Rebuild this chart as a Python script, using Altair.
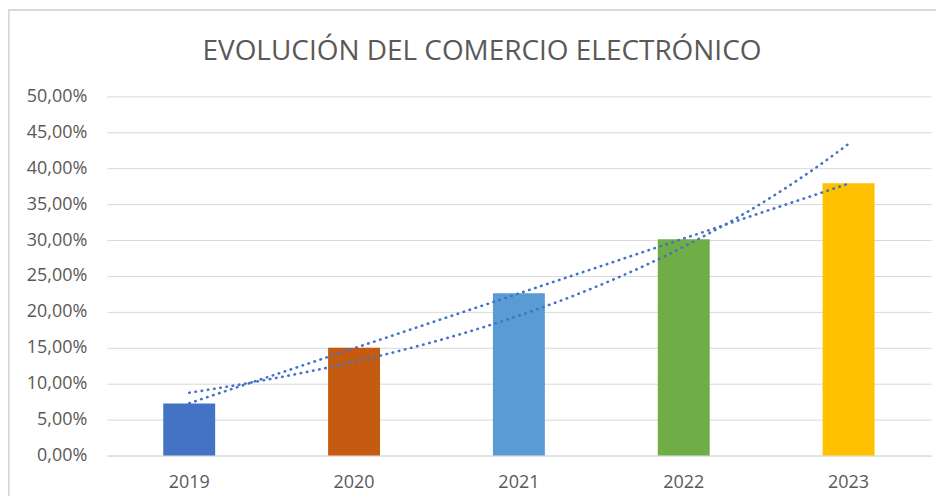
import altair as alt
import pandas as pd

title_text = "EVOLUCIÓN DEL COMERCIO ELECTRÓNICO"
years = ["2019", "2020", "2021", "2022", "2023"]
year_num = [2019, 2020, 2021, 2022, 2023]
values = [0.0725, 0.150, 0.226, 0.301, 0.379]
colors = ["#4472C4", "#C55A11", "#5B9BD5", "#70AD47", "#FFC000"]

df = pd.DataFrame({"year": years, "yn": year_num, "value": values})

FONT = "Open Sans"
W, H = 826, 360

y_scale = alt.Scale(domain=[0, 0.5])
y_axis = alt.Axis(title=None, values=[i / 100 for i in range(0, 51, 5)],
                  labelExpr="replace(format(datum.value, '.2%'), '.', ',')",
                  ticks=False, domain=False, labelPadding=20,
                  labelFontSize=18, labelColor="#595959", labelFont=FONT,
                  gridColor="#D9D9D9", gridWidth=1)

bars = alt.Chart(df).mark_bar().encode(
    x=alt.X("year:N", sort=years,
            scale=alt.Scale(paddingInner=0.685, paddingOuter=0.3425),
            axis=alt.Axis(title=None, labelAngle=0, ticks=False, domain=True,
                          domainColor="#D9D9D9", domainWidth=1,
                          labelPadding=18, labelFontSize=18, labelColor="#595959",
                          labelFont=FONT)),
    y=alt.Y("value:Q", scale=y_scale, axis=y_axis),
    color=alt.Color("year:N", scale=alt.Scale(domain=years, range=colors), legend=None),
)

x_scale = alt.Scale(domain=[2018.5, 2023.5], nice=False, zero=False)
dot_style = dict(color="#4472C4", strokeWidth=2.6, strokeDash=[0.5, 5.8], strokeCap="round")

# linear trendline (least squares)
lin = alt.Chart(df).transform_regression("yn", "value", method="linear").mark_line(
    **dot_style
).encode(x=alt.X("yn:Q", scale=x_scale, axis=None), y=alt.Y("value:Q", scale=y_scale, axis=y_axis))

# exponential trendline, fitted on log(value) like a spreadsheet trendline
expo = (
    alt.Chart(df)
    .transform_calculate(lnv="log(datum.value)")
    .transform_regression("yn", "lnv", method="linear", params=True)
    .transform_calculate(xs="sequence(2019, 2023.0001, 0.05)")
    .transform_flatten(["xs"])
    .transform_calculate(yv="exp(datum.coef[0] + datum.coef[1] * datum.xs)")
    .mark_line(**dot_style)
    .encode(x=alt.X("xs:Q", scale=x_scale, axis=None),
            y=alt.Y("yv:Q", scale=y_scale, axis=y_axis))
)

title = alt.Chart(pd.DataFrame({"t": [title_text]})).mark_text(
    font=FONT, fontSize=28, color="#595959", baseline="alphabetic", align="center"
).encode(x=alt.value(376), y=alt.value(-36), text="t:N")

border = alt.Chart(df).mark_rect(fill=None, stroke="#D9D9D9", strokeWidth=1.5, clip=False).encode(
    x=alt.value(-98.5), x2=alt.value(1200), y=alt.value(-86.5), y2=alt.value(900)
)

chart = alt.layer(bars, lin, expo, title, border).resolve_scale(x="independent").properties(
    width=W, height=H,
    padding={"left": 99, "top": 88, "right": 5, "bottom": 40},
    autosize=alt.AutoSizeParams(type="none"),
).configure_view(stroke=None)

chart.save("out.html", embed_options={"renderer": "svg", "actions": False})
